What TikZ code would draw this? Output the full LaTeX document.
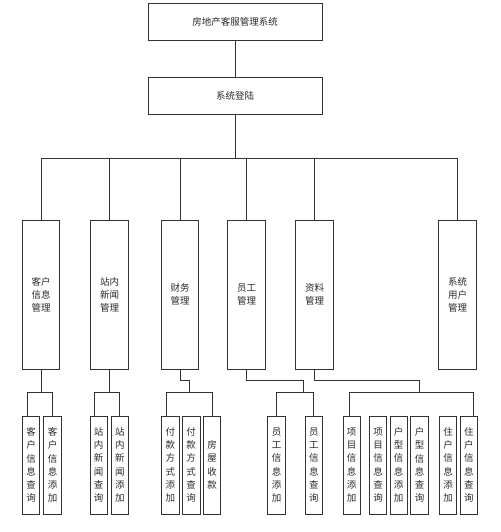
\documentclass[tikz,border=0pt]{standalone}
\usepackage{fontspec}
\setmainfont{Noto Sans CJK SC}
\usetikzlibrary{calc}
\definecolor{lc}{HTML}{333333}
\definecolor{tc}{HTML}{2A2A2A}
\begin{document}
\begin{tikzpicture}[x=1pt,y=-1pt,
  box/.style={draw=lc, line width=0.9pt, inner sep=0pt, align=center, text=tc,
    font=\fontsize{9.5}{13}\selectfont},
  wide/.style={box, minimum width=174pt, minimum height=37pt},
  mid/.style={box, minimum width=37.5pt, minimum height=149pt},
  leaf/.style={box, minimum width=17.5pt, minimum height=98pt,
    font=\fontsize{9.5}{13.3}\selectfont},
  link/.style={draw=lc, line width=0.9pt}]
\useasboundingbox[fill=white] (0,0) rectangle (500,532);

\coordinate (busy) at (0,158);
\coordinate (y1) at (0,380);
\coordinate (y2) at (0,392);

\node[wide] (top) at (235,21.5) {房地产客服管理系统};
\node[wide] (login) at (235,95.5) {系统登陆};

\node[mid] (m1) at (41,294.5) {客户\\信息\\管理};
\node[mid] (m2) at (109.5,294.5) {站内\\新闻\\管理};
\node[mid] (m3) at (180,294.5) {财务\\管理};
\node[mid] (m4) at (246.5,294.5) {员工\\管理};
\node[mid] (m5) at (314.5,294.5) {资料\\管理};
\node[mid] (m6) at (457.5,294.5) {系统\\用户\\管理};

\node[leaf] (l1) at (31,465) {客\\户\\信\\息\\查\\询};
\node[leaf] (l2) at (52.5,465) {客\\户\\信\\息\\添\\加};
\node[leaf] (l3) at (98.7,465) {站\\内\\新\\闻\\查\\询};
\node[leaf] (l4) at (119.8,465) {站\\内\\新\\闻\\添\\加};
\node[leaf] (l5) at (170.3,465) {付\\款\\方\\式\\添\\加};
\node[leaf] (l6) at (191.2,465) {付\\款\\方\\式\\查\\询};
\node[leaf] (l7) at (212,465) {房\\屋\\收\\款};
\node[leaf] (l8) at (276.5,465) {员\\工\\信\\息\\添\\加};
\node[leaf] (l9) at (313.8,465) {员\\工\\信\\息\\查\\询};
\node[leaf] (l10) at (351.7,465) {项\\目\\信\\息\\添\\加};
\node[leaf] (l11) at (378,465) {项\\目\\信\\息\\查\\询};
\node[leaf] (l12) at (398.7,465) {户\\型\\信\\息\\添\\加};
\node[leaf] (l13) at (419.5,465) {户\\型\\信\\息\\查\\询};
\node[leaf] (l14) at (448,465) {住\\户\\信\\息\\添\\加};
\node[leaf] (l15) at (468.8,465) {住\\户\\信\\息\\查\\询};

% top chain
\draw[link] (top.south) -- (login.north);
\draw[link] (login.south) -- (login.south |- busy);
\draw[link] (m1.north) |- (m6.north |- busy) -- (m6.north);
\foreach \m in {m2,m3,m4,m5}
  \draw[link] (\m.north) -- (\m.north |- busy);

% customer
\draw[link] (m1.south) -- (m1.south |- y2);
\draw[link] ($(l1.north)+(-4,0)$) |- (l2.north |- y2) -- (l2.north);
% news
\draw[link] (m2.south) -- (m2.south |- y2);
\draw[link] ($(l3.north)+(-4.7,0)$) |- (l4.north |- y2) -- (l4.north);
% finance
\draw[link] (m3.south) |- ++(9,11) -- ++(0,12);
\draw[link] ($(l5.north)+(-4,0)$) |- (l7.north |- y2) -- (l7.north);
% staff
\draw[link] (m4.south) |- ++(56.5,11) -- ++(0,12);
\draw[link] (l8.north) |- (l9.north |- y2) -- (l9.north);
% data
\draw[link] (m5.south) |- ++(104.5,11) -- ++(0,12);
\draw[link] ($(l10.north)+(-2.7,0)$) |- ($(l15.north |- y2)+(5,0)$) -- ($(l15.north)+(5,0)$);
\end{tikzpicture}
\end{document}
